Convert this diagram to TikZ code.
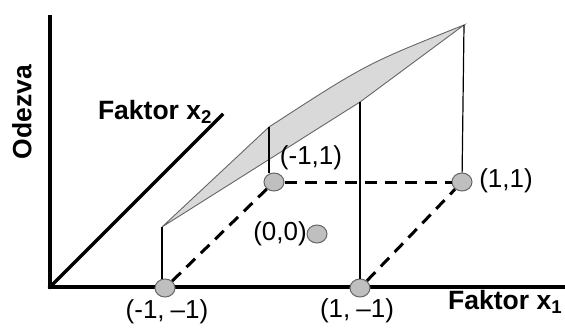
\documentclass[tikz,border=0pt]{standalone}
\usepackage{fontspec}
\setmainfont{Liberation Sans}
\usetikzlibrary{calc,shapes.geometric}
\begin{document}
\begin{tikzpicture}[x=1pt,y=-1pt,
  axis/.style={line width=3.4pt,line cap=rect},
  guide/.style={line width=1.2pt,black},
  dashline/.style={line width=3pt,dash pattern=on 12pt off 8pt},
  pt/.style={ellipse,draw=black!60,fill=black!25,line width=1pt,minimum width=20pt,minimum height=18pt,inner sep=0pt},
  lab/.style={font=\fontsize{26}{28}\selectfont,inner sep=0pt,text=black},
  blab/.style={font=\fontsize{26.5}{28}\selectfont\bfseries,inner sep=0pt,text=black}]
\useasboundingbox (0,0) rectangle (565,329);
% axes
\coordinate (O) at (50,287);
\coordinate (ytop) at (50,17);
\coordinate (xend) at (567,287);
\coordinate (x2end) at (222,115);
\draw[axis] (ytop) -- (O) -- (xend);
\draw[axis] (O) -- (x2end);
% surface corners
\coordinate (sa) at (162,227);
\coordinate (sc) at (269,127);
\coordinate (sd) at (464,25);
\coordinate (sb) at (360,102);
\filldraw[fill=black!15,draw=black!60,line width=0.9pt] (sa) -- (sc) .. controls (366,64) .. (sd) -- (sb) -- cycle;
% points
\node[pt] (A) at (165,288) {};
\node[pt] (B) at (360,288) {};
\node[pt] (C) at (274,182) {};
\node[pt] (D) at (462,182) {};
\node[pt] (E) at (317,234) {};
% dashed lines
\draw[dashline] (A) -- (C);
\draw[dashline] (C) -- (D);
\draw[dashline] (B) -- (D);
% verticals
\draw[guide] (sa) -- (sa |- A.north);
\draw[guide] (sc) -- (sc |- C.north);
\draw[guide] (sb) -- (B);
\draw[guide] (sd) -- (D);
% labels
\node[lab] (lA) at (167,312) {(-1,\hspace{6pt}–1)};
\node[lab] (lB) at (357,311) {(1,\hspace{6pt}–1)};
\node[lab] (lC) at (311,158) {(-1,1)};
\node[lab] (lD) at (506,181) {(1,1)};
\node[lab] (lE) at (280,234) {(0,0)};
\node[blab,anchor=west] (lx1) at (448,302) {Faktor x\textsubscript{1}};
\node[blab] (lx2) at (155,112) {Faktor x\textsubscript{2}};
\node[blab,rotate=90] (ly) at (22,112) {Odezva};
\end{tikzpicture}
\end{document}
